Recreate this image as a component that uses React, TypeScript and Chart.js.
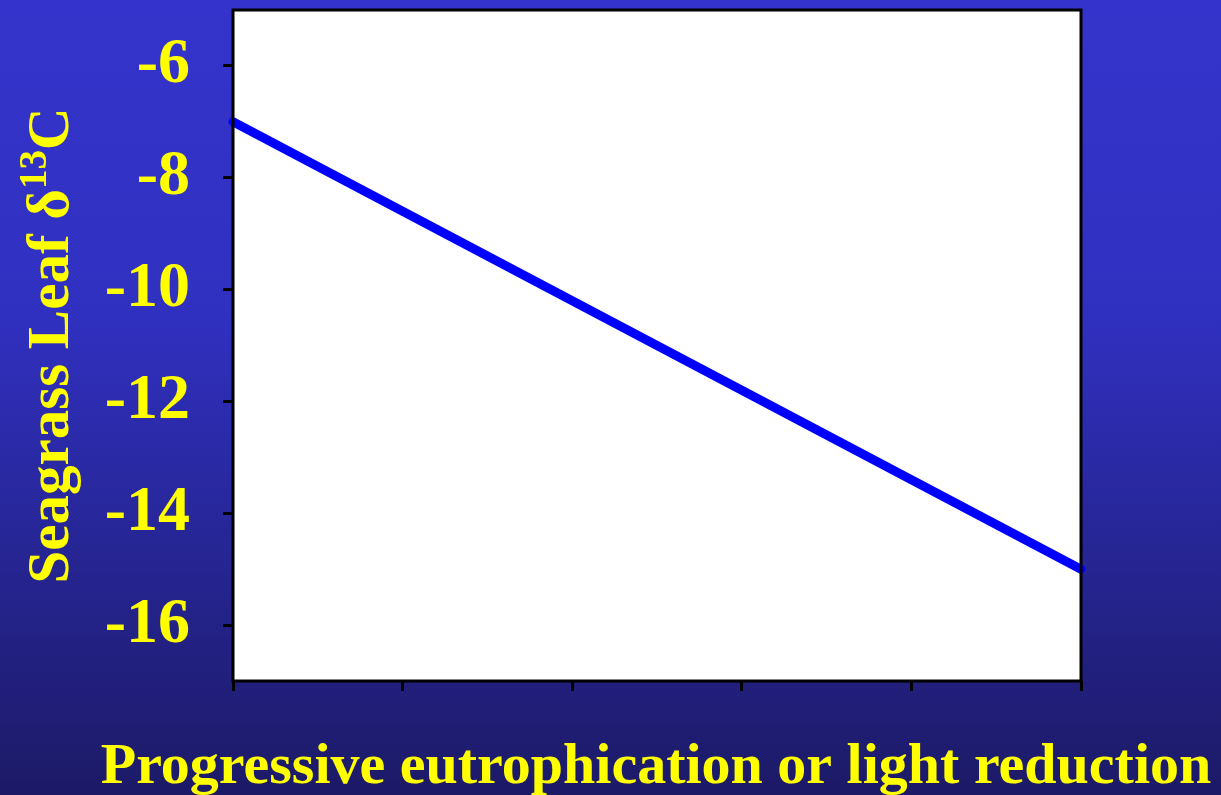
import React, { useEffect, useRef } from "react";
import { Chart, registerables } from "chart.js";

Chart.register(...registerables);

const xValues = [0, 5];
const yValues = [-7, -15];
const yTicks = [-16, -14, -12, -10, -8, -6];
const xTicks = [0, 1, 2, 3, 4, 5];
const yTitleMain = "Seagrass Leaf δ";
const yTitleSup = "13";
const yTitleEnd = "C";
const xTitle = "Progressive eutrophication or light reduction";

const FONT = "'Liberation Serif', 'Times New Roman', serif";
const YELLOW = "#ffff00";

const bgPlugin = {
  id: "bgPlugin",
  beforeDraw(chart: any) {
    const { ctx, width, height, chartArea } = chart;
    ctx.save();
    const g = ctx.createLinearGradient(0, 0, 0, height);
    g.addColorStop(0, "#3434cc");
    g.addColorStop(0.4, "#3030c0");
    g.addColorStop(1, "#1c1a66");
    ctx.fillStyle = g;
    ctx.fillRect(0, 0, width, height);
    ctx.fillStyle = "#ffffff";
    ctx.fillRect(chartArea.left, chartArea.top, chartArea.right - chartArea.left, chartArea.bottom - chartArea.top);
    ctx.restore();
  },
  afterDraw(chart: any) {
    const { ctx, chartArea } = chart;
    ctx.save();
    ctx.strokeStyle = "#000000";
    ctx.lineWidth = 3;
    ctx.strokeRect(chartArea.left, chartArea.top, chartArea.right - chartArea.left, chartArea.bottom - chartArea.top);

    // x title
    ctx.fillStyle = YELLOW;
    ctx.textBaseline = "alphabetic";
    ctx.textAlign = "center";
    ctx.font = `bold 58px ${FONT}`;
    ctx.fillText(xTitle, 656, 783);

    // y title with superscript
    const big = 59;
    const small = 39;
    ctx.textAlign = "left";
    ctx.font = `bold ${big}px ${FONT}`;
    const w1 = ctx.measureText(yTitleMain).width;
    const w3 = ctx.measureText(yTitleEnd).width;
    ctx.font = `bold ${small}px ${FONT}`;
    const w2 = ctx.measureText(yTitleSup).width;
    const total = w1 + w2 + w3;
    const cy = (chartArea.top + chartArea.bottom) / 2;
    ctx.translate(68, cy);
    ctx.rotate(-Math.PI / 2);
    let x = -total / 2;
    ctx.font = `bold ${big}px ${FONT}`;
    ctx.fillText(yTitleMain, x, 0);
    x += w1;
    ctx.font = `bold ${small}px ${FONT}`;
    ctx.fillText(yTitleSup, x, -22);
    x += w2;
    ctx.font = `bold ${big}px ${FONT}`;
    ctx.fillText(yTitleEnd, x, 0);
    ctx.restore();
  },
};

export default function App() {
  const ref = useRef<HTMLCanvasElement | null>(null);
  useEffect(() => {
    document.body.style.margin = "0";
    const canvas = ref.current!;
    const chart = new Chart(canvas, {
      type: "scatter",
      data: {
        datasets: [
          {
            data: xValues.map((x, i) => ({ x, y: yValues[i] })),
            showLine: true,
            borderColor: "#0000ff",
            borderWidth: 9,
            borderCapStyle: "round",
            pointRadius: 0,
            clip: false,
          } as any,
        ],
      },
      options: {
        animation: false,
        responsive: false,
        layout: { padding: { top: 10, right: 140, left: 0, bottom: 0 } },
        plugins: { legend: { display: false }, tooltip: { enabled: false } },
        scales: {
          x: {
            type: "linear",
            min: 0,
            max: 5,
            afterBuildTicks: (s: any) => {
              s.ticks = xTicks.map((v) => ({ value: v }));
            },
            afterFit: (s: any) => {
              s.height = 114;
              s.paddingLeft = 0;
              s.paddingRight = 0;
            },
            border: { display: false },
            grid: { drawOnChartArea: false, drawTicks: true, tickLength: 10, color: "#000000", lineWidth: 3 },
            ticks: { callback: () => "", padding: 0 },
          },
          y: {
            type: "linear",
            min: -17,
            max: -5,
            afterBuildTicks: (s: any) => {
              s.ticks = yTicks.map((v) => ({ value: v }));
            },
            afterFit: (s: any) => {
              s.width = 233;
              s.paddingTop = 0;
              s.paddingBottom = 0;
            },
            border: { display: false },
            grid: { drawOnChartArea: false, drawTicks: true, tickLength: 10, color: "#000000", lineWidth: 3 },
            ticks: {
              color: YELLOW,
              font: { family: FONT, size: 64, weight: "bold" },
              padding: 33,
            },
          },
        },
      },
      plugins: [bgPlugin],
    } as any);
    return () => chart.destroy();
  }, []);
  return (
    <div style={{ width: 1221, height: 795 }}>
      <canvas ref={ref} width={1221} height={795} style={{ display: "block" }} />
    </div>
  );
}
